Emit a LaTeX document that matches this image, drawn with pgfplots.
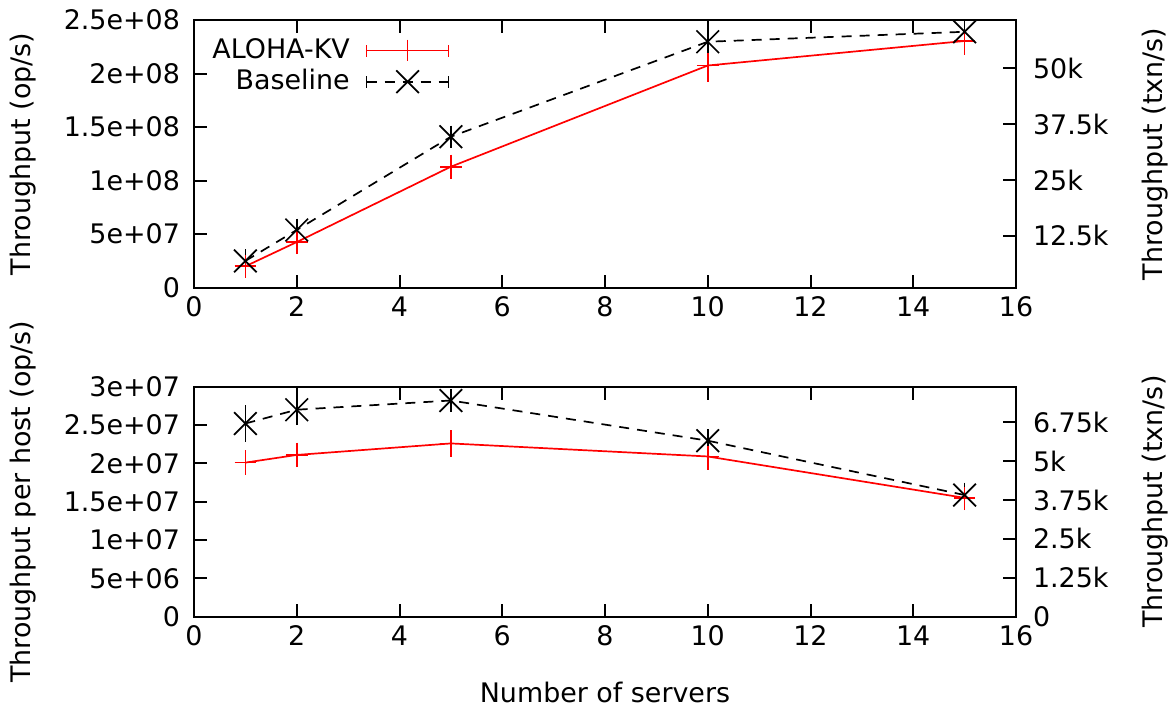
\documentclass[border=0pt]{standalone}
\usepackage{fontspec}
\setmainfont{DejaVu Sans}
\usepackage{pgfplots}
\pgfplotsset{compat=1.18}
\definecolor{gred}{RGB}{255,0,0}
\pgfplotsset{
  base/.style={scale only axis, width=411pt, xmin=0, xmax=16,
    xtick={0,2,...,16}, tick align=inside, major tick length=6.5pt,
    axis line style={line width=1pt},
    every tick/.style={black,line width=1pt},
    /pgf/number format/assume math mode=true,
    font=\fontsize{13.45}{16}\selectfont,
    yticklabel style={xshift=-3.5pt},
    xticklabel style={yshift=-1pt}},
  rightax/.style={scale only axis, width=411pt, xmin=0, xmax=16,
    hide x axis, axis y line*=right, tick align=inside, major tick length=6.5pt,
    axis line style={line width=1pt},
    every tick/.style={black,line width=1pt},
    font=\fontsize{13.45}{16}\selectfont,
    yticklabel style={xshift=5pt}},
  redline/.style={color=gred, line width=0.85pt, mark=+, mark size=5.4pt,
    mark options={solid, line width=0.85pt},
    error bars/.cd, y dir=both, y explicit, error mark=-,
    error mark options={mark size=5pt, line width=0.85pt, gred, solid},
    error bar style={line width=0.85pt, solid}},
  blackline/.style={color=black, line width=0.85pt, dash pattern=on 5pt off 4pt,
    mark=x, mark size=8pt, mark options={solid, line width=0.85pt},
    error bars/.cd, y dir=both, y explicit, error mark=-,
    error mark options={mark size=5pt, line width=0.85pt, black, solid},
    error bar style={line width=0.85pt, solid}},
  legimg/.style={legend image code/.code={
    \draw[##1, mark=none] (0pt,0pt) -- (41pt,0pt);
    \draw[##1, mark=none, solid] (0pt,-3pt) -- (0pt,3pt);
    \draw[##1, mark=none, solid] (41pt,-3pt) -- (41pt,3pt);
    \draw[##1, mark repeat=2, mark phase=2, draw=none] plot coordinates {(0pt,0pt) (20.5pt,0pt) (41pt,0pt)};
  }},
}
\begin{document}
\begin{tikzpicture}[font=\fontsize{13.45}{16}\selectfont]
\useasboundingbox (-97pt,10pt) rectangle (489pt,-346pt);
% ---------- top panel ----------
\begin{axis}[base, name=top, at={(0pt,0pt)}, anchor=north west, height=133.85pt,
  ymin=0, ymax=250, ytick={0,50,100,150,200,250},
  yticklabels={0,5e+07,1e+08,1.5e+08,2e+08,2.5e+08},
  ytick pos=left, xtick pos=both,
  legend plot pos=right, legend cell align=right,
  legend style={draw=none, fill=none, at={(rel axis cs:0,1)}, anchor=north west,
    xshift=7pt, yshift=-7.25pt, inner sep=0pt, row sep=0pt, column sep=6pt,
    nodes={inner sep=2pt, text height=9.6pt, text depth=2pt},
    font=\fontsize{13.45}{16}\selectfont}]
\addplot+[legimg, redline] coordinates {
  (1,20.0) +- (0,1.5)
  (2,42.6) +- (0,2.0)
  (5,113.0) +- (0,2.0)
  (10,207.5) +- (0,5.8)
  (15,230.4) +- (0,3.6)
};
\addlegendentry{ALOHA-KV}
\addplot+[legimg, blackline] coordinates {
  (1,25.0) +- (0,1.5)
  (2,53.9) +- (0,1.2)
  (5,141.0) +- (0,1.0)
  (10,229.7) +- (0,1.0)
  (15,239.0) +- (0,1.0)
};
\addlegendentry{Baseline}
\end{axis}
\begin{axis}[rightax, at={(0pt,0pt)}, anchor=north west, height=133.85pt,
  ymin=0.9, ymax=60.8, ytick={12.5,25,37.5,50},
  yticklabels={12.5k,25k,37.5k,50k}]
\end{axis}
% ---------- bottom panel ----------
\begin{axis}[base, name=bot, at={(0pt,-183.35pt)}, anchor=north west, height=115pt,
  ymin=0, ymax=30, ytick={0,5,10,15,20,25,30},
  yticklabels={0,5e+06,1e+07,1.5e+07,2e+07,2.5e+07,3e+07},
  ytick pos=left, xtick pos=both]
\addplot+[redline] coordinates {
  (1,20.1) +- (0,0.3)
  (2,21.1) +- (0,0.3)
  (5,22.6) +- (0,0.4)
  (10,20.9) +- (0,0.4)
  (15,15.5) +- (0,0.3)
};
\addplot+[blackline] coordinates {
  (1,25.2) +- (0,1.1)
  (2,27.0) +- (0,0.7)
  (5,28.2) +- (0,0.2)
  (10,22.96) +- (0,0.2)
  (15,15.87) +- (0,0.3)
};
\end{axis}
\begin{axis}[rightax, at={(0pt,-183.35pt)}, anchor=north west, height=115pt,
  ymin=0, ymax=7.39, ytick={0,1.25,2.5,3.75,5,6.25},
  yticklabels={0,1.25k,2.5k,3.75k,5k,6.75k}]
\end{axis}
% ---------- axis titles ----------
\node[rotate=90] at ([xshift=-85.5pt]top.west) {Throughput (op/s)};
\node[rotate=90] at ([xshift=69.5pt]top.east) {Throughput (txn/s)};
\node[rotate=90] at ([xshift=-85.5pt]bot.west) {Throughput per host (op/s)};
\node[rotate=90] at ([xshift=69.5pt]bot.east) {Throughput (txn/s)};
\node at ([yshift=-38pt]bot.south) {Number of servers};
\end{tikzpicture}
\end{document}
